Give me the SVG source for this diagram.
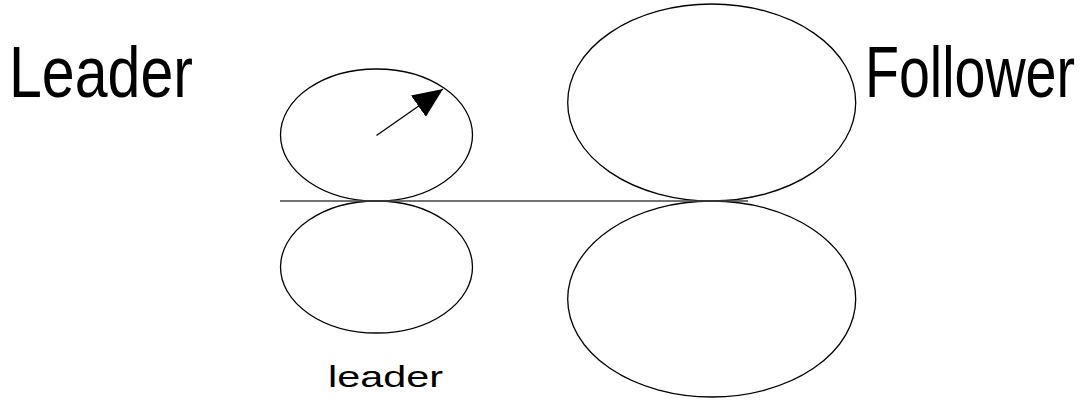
<svg xmlns="http://www.w3.org/2000/svg" width="1090" height="400" viewBox="0 0 1090 400">
<style>
.roll{fill:none;stroke:#000;stroke-width:1.3}
.big{font-family:"Liberation Sans",Arial,sans-serif;font-size:56px;fill:#000}
.small{font-family:"Liberation Sans",Arial,sans-serif;font-size:30px;fill:#000}
</style>
<defs>
<marker id="ah" markerUnits="userSpaceOnUse" markerWidth="30" markerHeight="26" refX="30" refY="13" orient="auto">
<path d="M0,0 L30,13 L0,26 Z" fill="#000"/>
</marker>
</defs>
<rect width="1090" height="400" fill="#fff"/>
<g id="label-leader-title" transform="scale(1,1.29)"><text class="big" x="9" y="75.2" textLength="184" lengthAdjust="spacingAndGlyphs">Leader</text></g>
<g id="label-follower-title" transform="scale(1,1.29)"><text class="big" x="865" y="75.2" textLength="210" lengthAdjust="spacingAndGlyphs">Follower</text></g>
<g id="leader-top-roll"><ellipse class="roll" cx="376.5" cy="135" rx="96" ry="66"/></g>
<g id="leader-bottom-roll"><ellipse class="roll" cx="376.5" cy="267" rx="96" ry="66"/></g>
<g id="follower-top-roll"><ellipse class="roll" cx="711.7" cy="102.5" rx="144" ry="98.5"/></g>
<g id="follower-bottom-roll"><ellipse class="roll" cx="711.7" cy="299" rx="144" ry="98"/></g>
<g id="label-leader"><text class="small" x="328" y="387" textLength="115" lengthAdjust="spacingAndGlyphs">leader</text></g>
<g id="connectors">
<line x1="280" y1="201" x2="748" y2="201" stroke="#444" stroke-width="1.5"/>
<line x1="376.5" y1="135.5" x2="443" y2="89" stroke="#000" stroke-width="1.3" marker-end="url(#ah)"/>
</g>
</svg>
